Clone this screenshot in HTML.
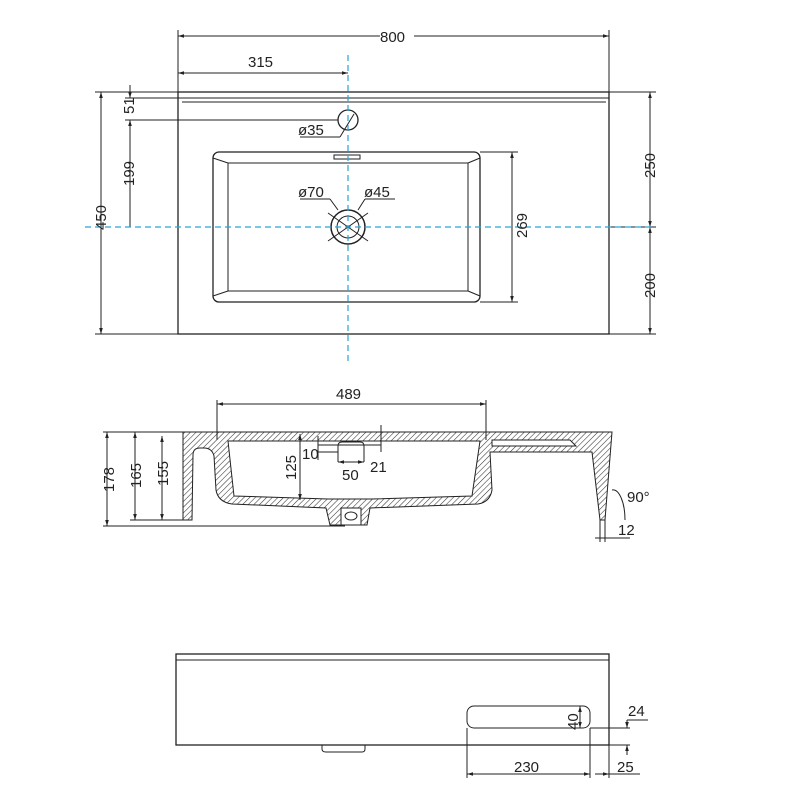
<!DOCTYPE html>
<html><head><meta charset="utf-8"><style>html,body{margin:0;padding:0;background:#fff}svg{display:block}text{font-family:"Liberation Sans",sans-serif;font-size:15px;fill:#222}</style></head>
<body>
<svg width="800" height="800" viewBox="0 0 800 800" xmlns="http://www.w3.org/2000/svg">
<defs>
<pattern id="h" width="4" height="4" patternUnits="userSpaceOnUse" patternTransform="rotate(45)"><line x1="0" y1="0" x2="0" y2="4" stroke="#333" stroke-width="1.1"/></pattern>
<marker id="a" viewBox="0 0 10 10" refX="10" refY="5" markerWidth="8" markerHeight="6" orient="auto-start-reverse"><path d="M0,2 L10,5 L0,8z" fill="#222"/></marker>
</defs>
<g stroke="#222" fill="none" stroke-width="1">
<rect x="178" y="92" width="431" height="242" stroke-width="1.3"/>
<line x1="178" y1="98" x2="609" y2="98"/><line x1="182" y1="102" x2="606" y2="102"/>
<rect x="213" y="152" width="267" height="150" rx="6" stroke-width="1.3"/>
<path d="M228,163 H468 V291 H228 Z"/>
<path d="M213,158 L228,163 M480,158 L468,163 M213,296 L228,291 M480,296 L468,291"/>
<rect x="334" y="155" width="26" height="4"/>
<circle cx="348" cy="120" r="10" stroke-width="1.3"/>
<circle cx="348" cy="227" r="17" stroke-width="1.5"/>
<circle cx="348" cy="227" r="11"/>
<line x1="328" y1="213" x2="368" y2="241"/><line x1="368" y1="213" x2="328" y2="241"/>
<line x1="178" y1="30" x2="178" y2="92"/><line x1="609" y1="30" x2="609" y2="92"/>
<line x1="178" y1="36" x2="380" y2="36" marker-start="url(#a)"/><line x1="414" y1="36" x2="609" y2="36" marker-end="url(#a)"/>
<line x1="178" y1="73" x2="348" y2="73" marker-start="url(#a)" marker-end="url(#a)"/>
<line x1="95" y1="92" x2="178" y2="92"/><line x1="95" y1="334" x2="178" y2="334"/>
<line x1="101" y1="92" x2="101" y2="334" marker-start="url(#a)" marker-end="url(#a)"/>
<line x1="125" y1="120" x2="338" y2="120"/><line x1="125" y1="98" x2="178" y2="98"/>
<line x1="130" y1="85" x2="130" y2="98" marker-end="url(#a)"/>
<line x1="130" y1="120" x2="130" y2="227" marker-start="url(#a)"/>
<line x1="609" y1="92" x2="656" y2="92"/><line x1="609" y1="334" x2="656" y2="334"/><line x1="609" y1="227" x2="656" y2="227"/>
<line x1="650" y1="92" x2="650" y2="227" marker-start="url(#a)" marker-end="url(#a)"/>
<line x1="650" y1="227" x2="650" y2="334" marker-start="url(#a)" marker-end="url(#a)"/>
<line x1="480" y1="152" x2="518" y2="152"/><line x1="480" y1="302" x2="518" y2="302"/>
<line x1="512" y1="152" x2="512" y2="302" marker-start="url(#a)" marker-end="url(#a)"/>
<line x1="300" y1="137" x2="340" y2="137"/><line x1="340" y1="137" x2="354" y2="114"/>
<line x1="300" y1="199" x2="330" y2="199"/><line x1="330" y1="199" x2="338" y2="210"/>
<line x1="365" y1="199" x2="395" y2="199"/><line x1="365" y1="199" x2="358" y2="210"/>
</g>
<g stroke="#29a3d6" stroke-dasharray="6,4" stroke-width="1.2">
<line x1="348" y1="55" x2="348" y2="362"/><line x1="85" y1="227" x2="652" y2="227"/>
</g>
<text x="380" y="42">800</text><text x="248" y="67">315</text>
<text x="298" y="135">ø35</text><text x="298" y="197">ø70</text><text x="364" y="197">ø45</text>
<text transform="translate(106,230) rotate(-90)">450</text>
<text transform="translate(134,114) rotate(-90)">51</text>
<text transform="translate(134,186) rotate(-90)">199</text>
<text transform="translate(655,178) rotate(-90)">250</text>
<text transform="translate(655,298) rotate(-90)">200</text>
<text transform="translate(527,238) rotate(-90)">269</text>

<!-- SECTION -->
<g stroke="#222" stroke-width="1">
<path d="M183,432 H612 L605,520 H600 L592,452 H490 L492,490 Q490,502 478,504 L370,508 L367,525 H330 L326,508 L232,504 Q218,502 216,490 L214,456 Q212,448 204,448 H200 Q193,448 193,455 L192,520 H183 Z" fill="url(#h)"/>
<path d="M228,441 H480 L472,496 L372,499 L328,499 L234,496 Z" fill="#fff"/>
<path d="M492,440 H570 L576,446 H492 Z" fill="#fff"/>
<rect x="341" y="508" width="20" height="17" fill="#fff"/>
<ellipse cx="351" cy="516" rx="6" ry="4" fill="none"/>
<g fill="none">
<line x1="217" y1="400" x2="217" y2="440"/><line x1="486" y1="400" x2="486" y2="440"/>
<line x1="217" y1="404" x2="486" y2="404" marker-start="url(#a)" marker-end="url(#a)"/>
<line x1="103" y1="432" x2="183" y2="432"/><line x1="103" y1="526" x2="345" y2="526"/><line x1="130" y1="520" x2="183" y2="520"/>
<line x1="107" y1="432" x2="107" y2="526" marker-start="url(#a)" marker-end="url(#a)"/>
<line x1="135" y1="432" x2="135" y2="520" marker-start="url(#a)" marker-end="url(#a)"/>
<line x1="162" y1="436" x2="162" y2="520" marker-start="url(#a)" marker-end="url(#a)"/>
<line x1="300" y1="434" x2="300" y2="500" marker-start="url(#a)" marker-end="url(#a)"/>
<line x1="318" y1="436" x2="318" y2="460"/><line x1="318" y1="445" x2="381" y2="445"/><line x1="318" y1="452" x2="338" y2="452"/>
<line x1="381" y1="425" x2="381" y2="452"/>
<path d="M338,462 V446 Q338,442 342,442 H360 Q364,442 364,446 V462"/>
<line x1="338" y1="462" x2="364" y2="462" marker-start="url(#a)" marker-end="url(#a)"/>
<path d="M612,490 A12,30 0 0 1 625,520"/>
<line x1="600" y1="520" x2="600" y2="542"/><line x1="605" y1="520" x2="605" y2="542"/>
<line x1="595" y1="538" x2="630" y2="538"/>
</g>
</g>
<text x="336" y="399">489</text>
<text transform="translate(114,492) rotate(-90)">178</text>
<text transform="translate(141,488) rotate(-90)">165</text>
<text transform="translate(168,486) rotate(-90)">155</text>
<text transform="translate(296,480) rotate(-90)">125</text>
<text x="302" y="459">10</text><text x="342" y="480">50</text><text x="370" y="472">21</text>
<text x="627" y="502">90°</text><text x="618" y="535">12</text>

<!-- BOTTOM VIEW -->
<g stroke="#222" fill="none" stroke-width="1">
<rect x="176" y="654" width="433" height="91" stroke-width="1.3"/>
<line x1="176" y1="660" x2="609" y2="660"/>
<path d="M322,745 V749 Q322,752 326,752 H362 Q365,752 365,749 V745"/>
<rect x="467" y="706" width="123" height="22" rx="7"/>
<line x1="467" y1="728" x2="467" y2="778"/><line x1="590" y1="728" x2="590" y2="778"/><line x1="609" y1="745" x2="609" y2="778"/>
<line x1="467" y1="774" x2="590" y2="774" marker-start="url(#a)" marker-end="url(#a)"/>
<line x1="595" y1="774" x2="609" y2="774" marker-end="url(#a)"/><line x1="609" y1="774" x2="640" y2="774"/>
<line x1="580" y1="706" x2="580" y2="728" marker-start="url(#a)" marker-end="url(#a)"/>
<line x1="590" y1="728" x2="630" y2="728"/><line x1="609" y1="745" x2="630" y2="745"/>
<line x1="627" y1="720" x2="627" y2="728" marker-end="url(#a)"/>
<line x1="627" y1="745" x2="627" y2="755" marker-start="url(#a)"/>
<line x1="627" y1="720" x2="648" y2="720"/>
</g>
<text x="514" y="772">230</text><text x="617" y="772">25</text><text x="628" y="716">24</text>
<text transform="translate(578,730) rotate(-90)">40</text>
</svg>
</body></html>
